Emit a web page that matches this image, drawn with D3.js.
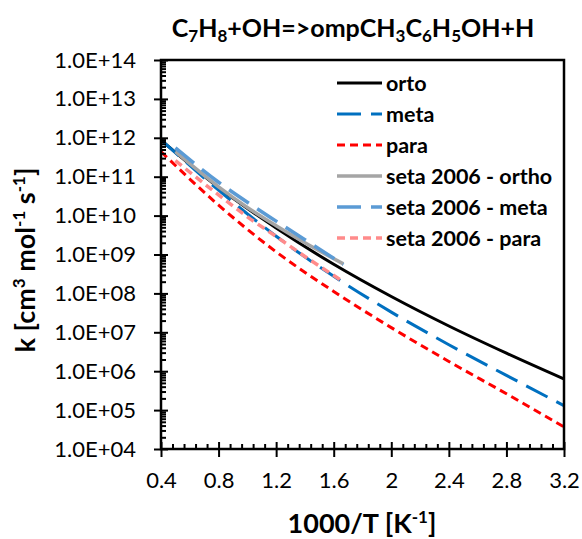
<!DOCTYPE html>
<html lang="en">
<head>
  <meta charset="UTF-8">
  <title>C7H8+OH=>ompCH3C6H5OH+H</title>
  <script src="https://d3js.org/d3.v7.min.js"></script>
  <style>
    body {
      margin: 0;
      background: #fff;
      font-family: 'Lato', 'Open Sans', sans-serif;
    }
    .tick text {
      font-family: 'Lato', sans-serif;
      font-size: 22px;
      fill: #000;
    }
    .legend text {
      font-size: 21.5px;
      font-weight: bold;
    }
  </style>
</head>
<body>
  <svg width="582" height="539"></svg>

  <script>
    // x = 1000/T [1/K]
    const xModel = [0.4, 0.8, 1.2, 1.6, 2.0, 2.4, 2.8, 3.2];
    const kOrto = [8.7e11, 5.25e10, 4.8e9, 5.6e8, 8.3e7, 1.45e7, 2.9e6, 6.3e5];
    const kMeta = [8.9e11, 4.5e10, 2.95e9, 2.75e8, 3.3e7, 4.8e6, 7.8e5, 1.3e5];
    const kPara = [4.4e11, 1.86e10, 1.17e9, 1.12e8, 1.32e7, 1.78e6, 2.63e5, 3.7e4];

    const xSeta = [0.5, 0.8, 1.0, 1.2, 1.4, 1.667];
    const kSetaOrtho = [4.4e11, 5.5e10, 1.62e10, 5.5e9, 2.0e9, 5.75e8];
    const kSetaMeta = [5.5e11, 7.2e10, 2.2e10, 7.2e9, 2.4e9, 5.5e8];
    const kSetaPara = [2.6e11, 3.4e10, 9.3e9, 2.9e9, 8.9e8, 2.0e8];

    const seriesNames = ["orto", "meta", "para", "seta 2006 - ortho", "seta 2006 - meta", "seta 2006 - para"];
    const xTicks = [0.4, 0.8, 1.2, 1.6, 2, 2.4, 2.8, 3.2];
    const yTicks = [1e4, 1e5, 1e6, 1e7, 1e8, 1e9, 1e10, 1e11, 1e12, 1e13, 1e14];

    const svg = d3.select("svg");
    const plotLeft = 161, plotRight = 564, plotTop = 60, plotBottom = 449;

    const x = d3.scaleLinear().domain([0.4, 3.2]).range([plotLeft, plotRight]);
    const y = d3.scaleLog().domain([1e4, 1e14]).range([plotBottom, plotTop]);

    const styles = [
      { color: "#000000", width: 3, dash: null },
      { color: "#0070C0", width: 3, dash: "24,10" },
      { color: "#FF0000", width: 3, dash: "8,5" },
      { color: "#A5A5A5", width: 3.5, dash: null },
      { color: "#5B9BD5", width: 3.5, dash: "24,10" },
      { color: "#FF8B8B", width: 3.5, dash: "8,5" }
    ];

    const series = [
      { xs: xModel, ks: kOrto },
      { xs: xModel, ks: kMeta },
      { xs: xModel, ks: kPara },
      { xs: xSeta, ks: kSetaOrtho },
      { xs: xSeta, ks: kSetaMeta },
      { xs: xSeta, ks: kSetaPara }
    ];

    // Title with subscripts
    const title = svg.append("text")
      .attr("x", 353)
      .attr("y", 37)
      .attr("text-anchor", "middle")
      .style("font-weight", "bold");
    const titleParts = [["C", 0], ["7", 1], ["H", 0], ["8", 1], ["+OH=>ompCH", 0], ["3", 1],
      ["C", 0], ["6", 1], ["H", 0], ["5", 1], ["OH+H", 0]];
    let shifted = false;
    titleParts.forEach(([t, sub]) => {
      let dy = 0;
      if (sub && !shifted) { dy = 5; shifted = true; }
      if (!sub && shifted) { dy = -5; shifted = false; }
      title.append("tspan")
        .attr("dy", dy)
        .style("font-size", sub ? "17px" : "25px")
        .text(t);
    });

    // Series lines
    const line = d3.line()
      .x(d => x(d[0]))
      .y(d => y(d[1]))
      .curve(d3.curveMonotoneX);

    series.forEach((s, i) => {
      svg.append("path")
        .datum(s.xs.map((v, j) => [v, s.ks[j]]))
        .attr("fill", "none")
        .attr("stroke", styles[i].color)
        .attr("stroke-width", styles[i].width)
        .attr("stroke-dasharray", styles[i].dash)
        .attr("d", line);
    });

    // Frame
    svg.append("rect")
      .attr("x", plotLeft).attr("y", plotTop)
      .attr("width", plotRight - plotLeft).attr("height", plotBottom - plotTop)
      .attr("fill", "none")
      .attr("stroke", "#000")
      .attr("stroke-width", 2.5);

    const fmtExp = d => {
      const e = Math.round(Math.log10(d));
      return "1.0E+" + String(e).padStart(2, "0");
    };

    // Y axis: labels + outward major ticks
    svg.append("g").attr("transform", `translate(${plotLeft},0)`)
      .call(d3.axisLeft(y).tickValues(yTicks).tickFormat(fmtExp).tickSize(7).tickPadding(18));
    // inward major ticks
    svg.append("g").attr("transform", `translate(${plotLeft},0)`)
      .call(d3.axisLeft(y).tickValues(yTicks).tickFormat("").tickSize(-7));
    // minor ticks
    const yMinor = [];
    yTicks.slice(0, -1).forEach(t => { for (let m = 2; m <= 9; m++) yMinor.push(t * m); });
    svg.append("g").attr("transform", `translate(${plotLeft},0)`)
      .call(d3.axisLeft(y).tickValues(yMinor).tickFormat("").tickSize(-5));

    // X axis
    svg.append("g").attr("transform", `translate(0,${plotBottom})`)
      .call(d3.axisBottom(x).tickValues(xTicks).tickFormat(d3.format("")).tickSize(8).tickPadding(15));
    svg.append("g").attr("transform", `translate(0,${plotBottom})`)
      .call(d3.axisBottom(x).tickValues(xTicks).tickFormat("").tickSize(-7));
    const xMinor = d3.range(0, 36).map(i => 0.4 + i * 0.08).filter((v, i) => i % 5 !== 0);
    svg.append("g").attr("transform", `translate(0,${plotBottom})`)
      .call(d3.axisBottom(x).tickValues(xMinor).tickFormat("").tickSize(-5));

    svg.selectAll(".domain").remove();
    svg.selectAll(".tick line").attr("stroke", "#000").attr("stroke-width", 2);

    // Axis titles
    const yTitle = svg.append("text")
      .attr("transform", "translate(35,260) rotate(-90)")
      .attr("text-anchor", "middle")
      .style("font-size", "27px")
      .style("font-weight", "bold");
    yTitle.append("tspan").text("k [cm");
    yTitle.append("tspan").attr("dy", -10).style("font-size", "17px").text("3");
    yTitle.append("tspan").attr("dy", 10).text(" mol");
    yTitle.append("tspan").attr("dy", -10).style("font-size", "17px").text("-1");
    yTitle.append("tspan").attr("dy", 10).text(" s");
    yTitle.append("tspan").attr("dy", -10).style("font-size", "17px").text("-1");
    yTitle.append("tspan").attr("dy", 10).text("]");

    const xTitle = svg.append("text")
      .attr("x", 362)
      .attr("y", 533)
      .attr("text-anchor", "middle")
      .style("font-size", "27px")
      .style("font-weight", "bold");
    xTitle.append("tspan").text("1000/T [K");
    xTitle.append("tspan").attr("dy", -10).style("font-size", "17px").text("-1");
    xTitle.append("tspan").attr("dy", 10).text("]");

    // Legend
    const legend = svg.append("g").attr("class", "legend");
    seriesNames.forEach((name, i) => {
      const ly = 83 + i * 31;
      legend.append("line")
        .attr("x1", 337).attr("x2", 382)
        .attr("y1", ly).attr("y2", ly)
        .attr("stroke", styles[i].color)
        .attr("stroke-width", styles[i].width)
        .attr("stroke-dasharray", styles[i].dash);
      legend.append("text")
        .attr("x", 386).attr("y", ly)
        .attr("dy", "0.35em")
        .text(name);
    });
  </script>
</body>
</html>
